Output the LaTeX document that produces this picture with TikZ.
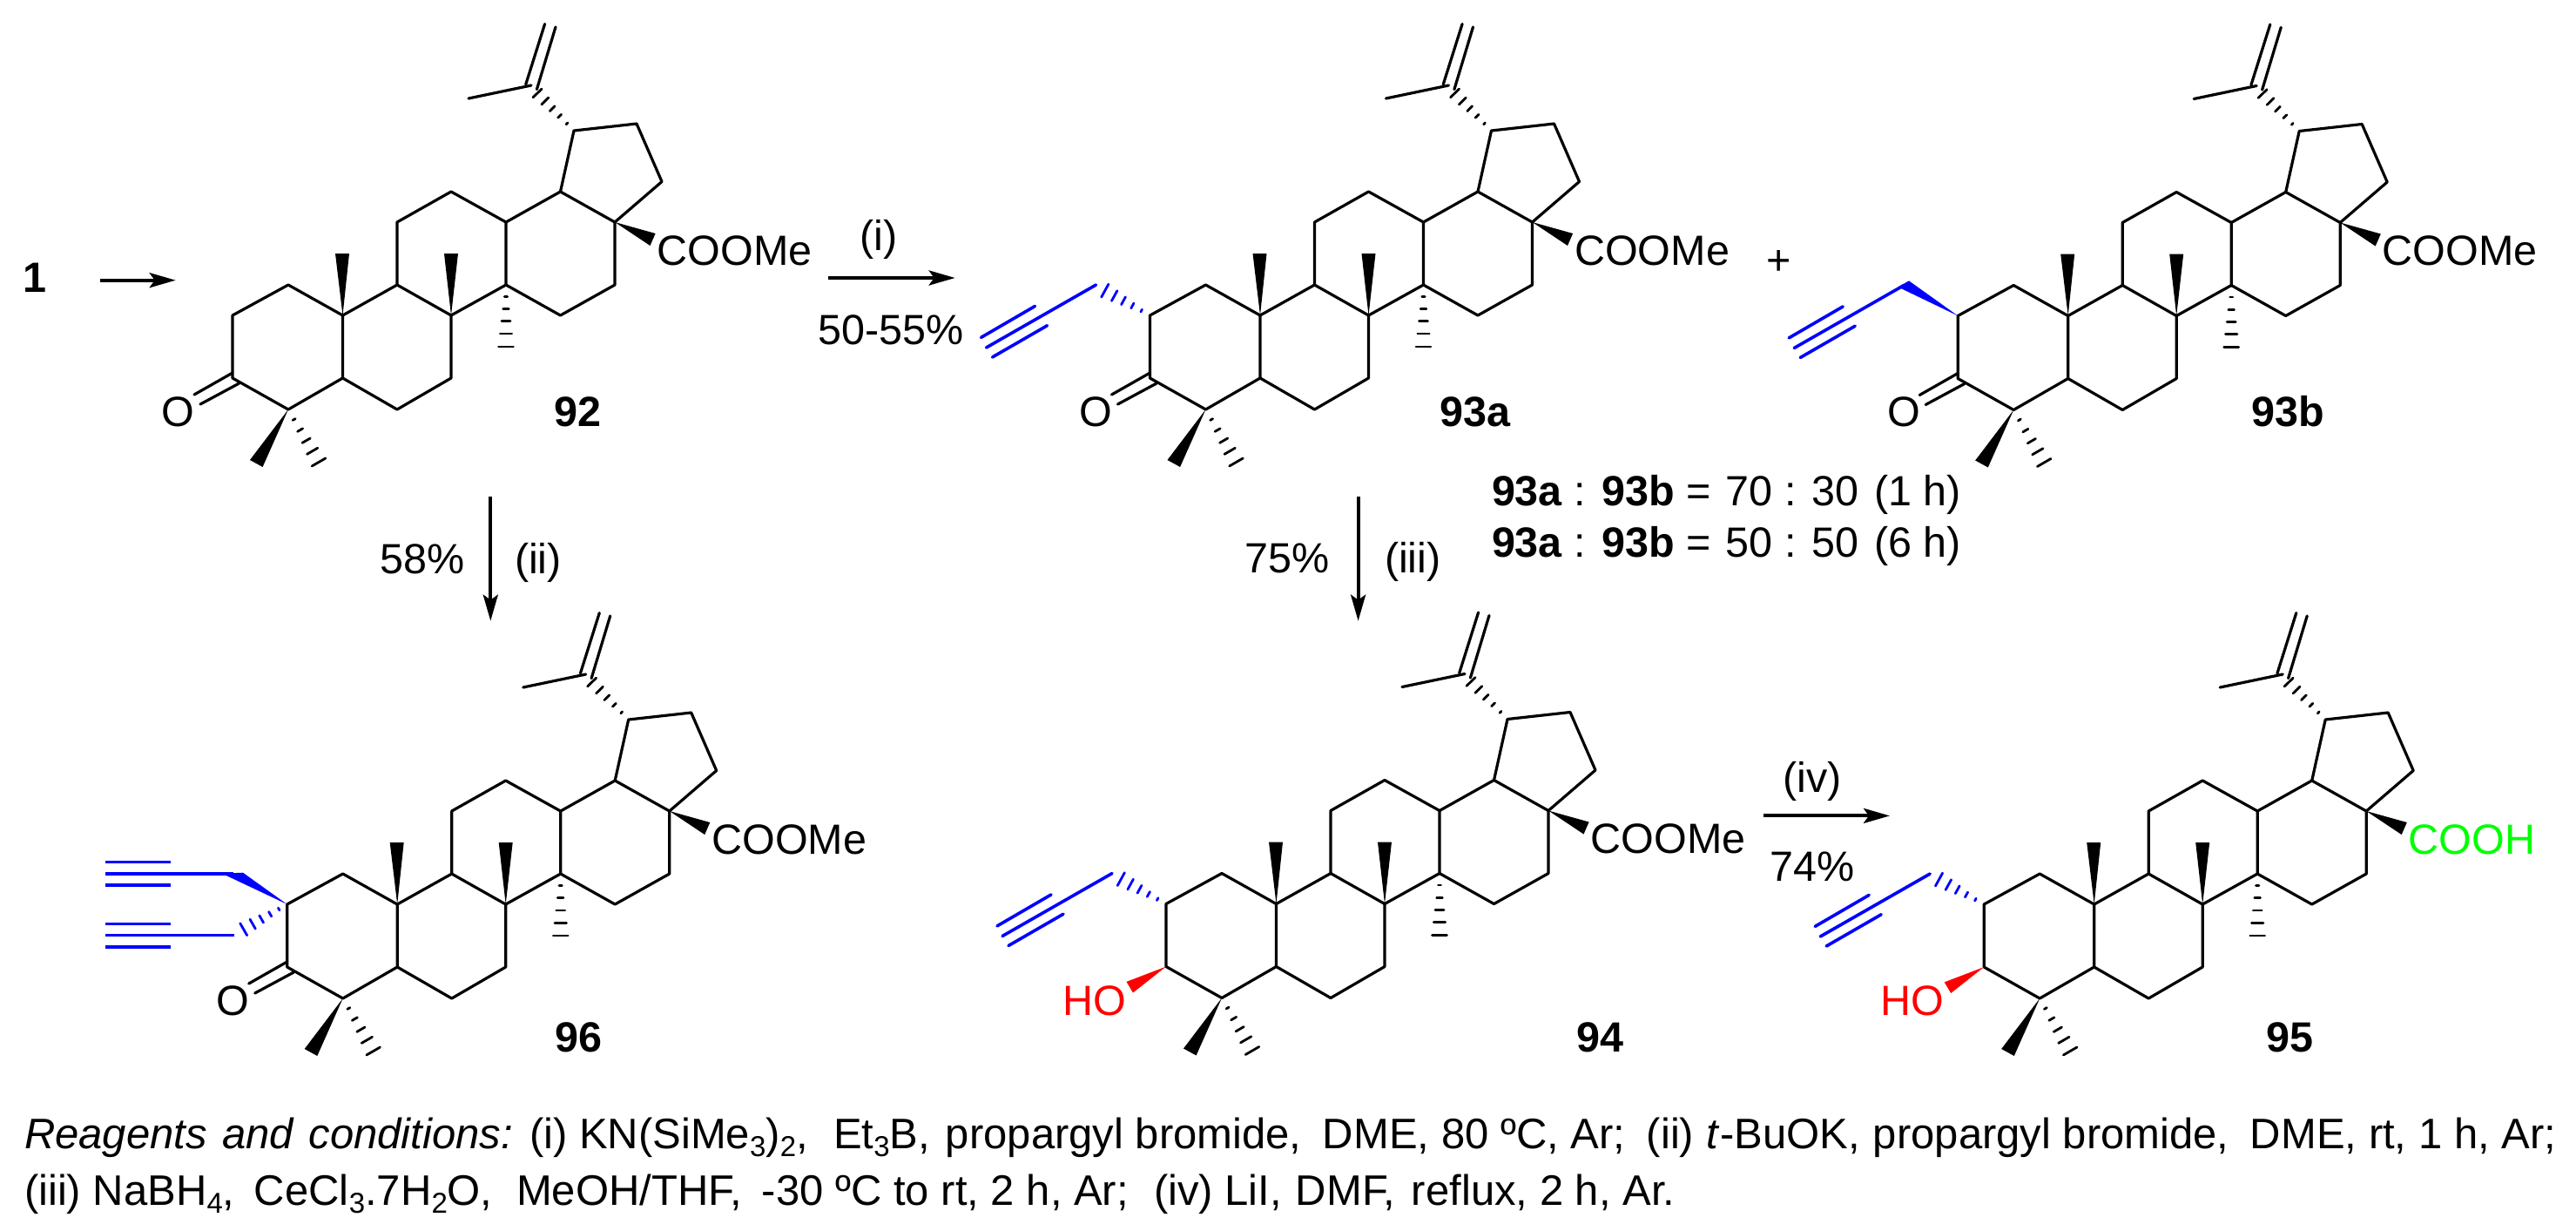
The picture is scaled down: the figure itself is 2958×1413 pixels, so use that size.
\documentclass[tikz,border=0pt]{standalone}
\usepackage{fontspec}
\setmainfont{Liberation Sans}
\usetikzlibrary{calc,arrows.meta}
\tikzset{
  bond/.style={line width=3.2pt,line cap=round,line join=round},
  hs/.style={line width=2.8pt,line cap=round},
  alk/.style={line width=3.6pt,cblue,line cap=round},
  txt/.style={inner sep=0pt,outer sep=0pt,anchor=base west,font=\fontsize{48.5}{58}\selectfont},
  txc/.style={txt,anchor=base},
  txe/.style={txt,anchor=base east},
  note/.style={txt,font=\fontsize{49}{58}\selectfont},
  rxn/.style={line width=4pt,-{Stealth[length=30pt,width=17pt,inset=6pt]}}
}
\definecolor{cblue}{HTML}{0000FF}
\definecolor{cred}{HTML}{FF0000}
\definecolor{cgreen}{HTML}{00FF00}
\newcommand\sbs[1]{\raisebox{-0.2em}{\fontsize{33}{33}\selectfont #1}}
\newcommand\seg[2]{\makebox[#1pt][l]{#2}}
% #1 start, #2 end, #3 half width at end, #4 colour
\newcommand\hashb[4]{%
  \foreach \hf in {.19,.39,.59,.79,1}{%
    \pgfmathsetmacro\hw{#3*\hf}%
    \coordinate (hp) at ($#1!\hf!#2$);
    \draw[hs,#4] ($(hp)!\hw pt!90:#1$) -- ($(hp)!\hw pt!-90:#1$);
  }%
}
% #1 name, #2 dx, #3 dy, #4 extras (origin at C2)
\newcommand\mol[4]{%
\begin{scope}[shift={(#2,#3)},name prefix=#1-]
  \coordinate (C1) at (331,327); \coordinate (C2) at (267,362);
  \coordinate (C3) at (267,434); \coordinate (C4) at (331,470);
  \coordinate (C5) at (393.5,434); \coordinate (C6) at (456,470);
  \coordinate (C7) at (518,434); \coordinate (C8) at (518,362);
  \coordinate (C9) at (456,327); \coordinate (C10) at (393.5,362);
  \coordinate (C11) at (456,255); \coordinate (C12) at (518,220);
  \coordinate (C13) at (581,255); \coordinate (C14) at (581,327);
  \coordinate (C15) at (643.5,362); \coordinate (C16) at (706,327);
  \coordinate (C17) at (706,255); \coordinate (C18) at (643.5,220);
  \coordinate (C19) at (659,150); \coordinate (C20) at (610,98);
  \coordinate (C21) at (731,142); \coordinate (C22) at (760,208.5);
  \coordinate (Me) at (538,113);
  \draw[bond] (C1)--(C2)--(C3)--(C4)--(C5)--(C10)--cycle;
  \draw[bond] (C5)--(C6)--(C7)--(C8)--(C9)--(C10);
  \draw[bond] (C9)--(C11)--(C12)--(C13)--(C14)--(C8);
  \draw[bond] (C13)--(C18)--(C17)--(C16)--(C15)--(C14);
  \draw[bond] (C18)--(C19)--(C21)--(C22)--(C17);
  \draw[bond] (Me)--(C20);
  \draw[bond] (625.6,27.5)--(603.7,97);
  \draw[bond] (638,31)--(616.4,102.6);
  \fill (C10)--(385,291)--(401,291)--cycle;
  \fill (C8)--(510,291)--(526,291)--cycle;
  \fill (C4)--(287,528)--(301.6,536)--cycle;
  \fill (C17)--(752.6,268)--(746.5,282)--cycle;
  \hashb{(C14)}{(581,398)}{8.5}{black}
  \hashb{(C4)}{(366,530.5)}{9}{black}
  \hashb{(C19)}{(617,107)}{7}{black}
  \begin{scope}[shift={(267,362)}]
    #4
  \end{scope}
\end{scope}}
\newcommand\oxo{%
  \draw[bond] (0,66)--(-44,91);
  \draw[bond] (7.6,78)--(-37,102);
  \node[txc] (oxy) at (-62.3,127) {O};}
\newcommand\coome{\node[txt] (est) at (487.6,-58) {COOMe};}
\newcommand\prop{%
  \draw[alk] (-62,-35)--(-188,37);
  \draw[alk] (-194,25.4)--(-132,-10.6);
  \draw[alk] (-181,48)--(-118,11.7);}
\newcommand\hydroxy{%
  \fill[cred] (0,72)--(-45.5,89.4)--(-38,102)--cycle;
  \node[txt,text=cred] (hyd) at (-119,127.7) {HO};}
\begin{document}
\begin{tikzpicture}[x=1pt,y=-1pt]
\useasboundingbox (0,0) rectangle (2958,1413);
\fill[white] (0,0) rectangle (2958,1413);
% 92
\mol{m92}{0}{0}{\oxo\coome}
% 93a
\mol{m93a}{1053.5}{0}{\oxo\coome\prop
  \hashb{(0,0)}{(-51.7,-28.4)}{8.5}{cblue}}
% 93b
\mol{m93b}{1981.2}{0.5}{\oxo\coome\prop
  \fill[cblue] (0,0)--(-68.6,-33)--(-56.2,-40.2)--cycle;}
% 96
\mol{m96}{62.7}{676}{\oxo\coome
  \fill[cblue] (0,0)--(-74.7,-35.3)--(-50.7,-36.3)--cycle;
  \hashb{(0,0)}{(-50,28.7)}{8}{cblue}
  \draw[alk,line cap=butt] (-208.7,-35.3)--(-62,-35.3);
  \draw[alk,line cap=butt] (-208.7,-48.6)--(-133.3,-48.6);
  \draw[alk,line cap=butt] (-208.7,-22.3)--(-133.3,-22.3);
  \draw[alk,line cap=butt] (-208.7,35.4)--(-60.7,35.4);
  \draw[alk,line cap=butt] (-208.7,22.4)--(-133.3,22.4);
  \draw[alk,line cap=butt] (-208.7,48.7)--(-133.3,48.7);}
% 94
\mol{m94}{1072}{675.5}{\coome\prop\hydroxy
  \hashb{(0,0)}{(-51.7,-28.4)}{8.5}{cblue}}
% 95
\mol{m95}{2011.2}{676}{\prop\hydroxy
  \hashb{(0,0)}{(-51.7,-28.4)}{8.5}{cblue}
  \node[txt,text=cgreen] (acid) at (487.6,-58) {COOH};}
% compound labels
\node[txt] (n1) at (26,335) {\textbf{1}};
\node[txc] (l92) at (663,489) {\textbf{92}};
\node[txc] (l93a) at (1694,489) {\textbf{93a}};
\node[txc] (l93b) at (2627,489) {\textbf{93b}};
\node[txc] (l96) at (664.5,1207) {\textbf{96}};
\node[txc] (l94) at (1837,1207) {\textbf{94}};
\node[txc] (l95) at (2629,1207) {\textbf{95}};
\node[txc] (plus) at (2042.4,315) {+};
% arrows
\coordinate (a1s) at (115,321.7); \coordinate (a1e) at (201.7,321.7);
\coordinate (a2s) at (951,319); \coordinate (a2e) at (1096.7,319);
\coordinate (a3s) at (563.3,570); \coordinate (a3e) at (563.3,712.7);
\coordinate (a4s) at (1559.6,570); \coordinate (a4e) at (1559.6,712.7);
\coordinate (a5s) at (2025,936.4); \coordinate (a5e) at (2170,936.4);
\draw[rxn] (a1s)--(a1e);
\draw[rxn] (a2s)--(a2e);
\draw[rxn] (a3s)--(a3e);
\draw[rxn] (a4s)--(a4e);
\draw[rxn] (a5s)--(a5e);
% arrow labels
\node[txc] (r1) at (1009,287.5) {(i)};
\node[txe] (y1) at (1107,395) {50-55\%};
\node[txe] (y2) at (533.5,658) {58\%};
\node[txt] (r2) at (591,658) {(ii)};
\node[txe] (y3) at (1527,657) {75\%};
\node[txt] (r3) at (1590,657) {(iii)};
\node[txc] (r4) at (2081,909) {(iv)};
\node[txc] (y4) at (2081,1011) {74\%};
% ratios
\node[txt] (q1) at (1713,580.7) {\textbf{93a} : \textbf{93b} = \hspace{4pt}70 : 30 \hspace{4pt}(1 h)};
\node[txt] (q2) at (1713,639) {\textbf{93a} : \textbf{93b} = \hspace{4pt}50 : 50 \hspace{4pt}(6 h)};
% conditions
\node[note] (c1) at (28,1318) {\seg{580}{\spaceskip=.36em\textit{Reagents and conditions:}}\seg{349}{(i) KN(SiMe\sbs{3})\sbs{2},}\seg{129}{Et\sbs{3}B,}\seg{433}{propargyl bromide,}\seg{372}{DME, 80 ºC, Ar;}\seg{69}{(ii)}\seg{191}{\textit{t}-BuOK,}\seg{433}{propargyl bromide,}DME, rt, 1 h, Ar;};
\node[note] (c2) at (28,1383) {\seg{264}{(iii) NaBH\sbs{4},}\seg{301}{CeCl\sbs{3}.7H\sbs{2}O,}\seg{282}{MeOH/THF,}\seg{450}{-30 ºC to rt, 2 h, Ar;}\seg{163}{(iv) LiI,}\seg{133}{DMF,}reflux, 2 h, Ar.};
\end{tikzpicture}
\end{document}
